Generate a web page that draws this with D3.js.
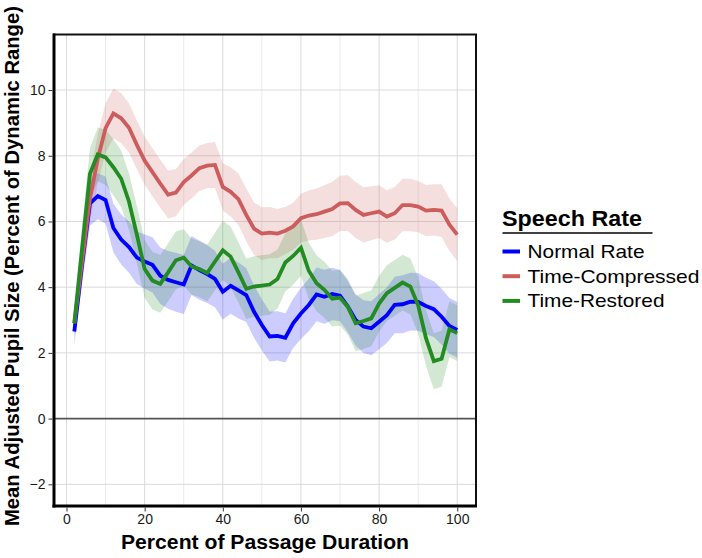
<!DOCTYPE html>
<html>
<head>
<meta charset="utf-8">
<script src="https://cdn.jsdelivr.net/npm/d3@7/dist/d3.min.js"></script>
<style>
  html, body { margin: 0; padding: 0; background: #fff; }
  svg { display: block; font-family: "Liberation Sans", Arial, Helvetica, sans-serif; }
</style>
</head>
<body>
<div id="chart"></div>
<script>
// ---------------- data ----------------
const percent = [2,4,6,8,10,12,14,16,18,20,22,24,26,28,30,32,34,36,38,40,42,44,46,48,50,
                 52,54,56,58,60,62,64,66,68,70,72,74,76,78,80,82,84,86,88,90,92,94,96,98,100];

const normalMean = [2.65,4.7,6.55,6.77,6.65,5.8,5.45,5.22,4.9,4.78,4.68,4.35,4.22,4.15,4.08,4.66,4.52,4.4,4.25,3.86,
                    4.04,3.9,3.76,3.25,2.85,2.5,2.52,2.46,2.9,3.2,3.46,3.78,3.71,3.79,3.74,3.41,3.0,2.8,2.75,2.95,
                    3.15,3.46,3.48,3.56,3.55,3.43,3.33,3.1,2.82,2.7];
const normalHalf = [0.4,0.6,0.68,0.7,0.72,0.74,0.76,0.78,0.8,0.82,0.84,0.86,0.88,0.9,0.9,0.9,0.9,0.88,0.86,0.85,
                    0.85,0.85,0.82,0.8,0.78,0.76,0.75,0.75,0.75,0.78,0.8,0.82,0.82,0.8,0.78,0.78,0.78,0.8,0.82,0.84,
                    0.85,0.86,0.88,0.88,0.88,0.86,0.85,0.85,0.85,0.85];

const compressedMean = [2.9,4.8,6.7,7.9,8.84,9.29,9.14,8.85,8.33,7.85,7.5,7.15,6.82,6.88,7.2,7.4,7.62,7.7,7.72,7.05,
                        6.9,6.68,6.2,5.78,5.63,5.66,5.63,5.72,5.85,6.1,6.18,6.22,6.3,6.38,6.55,6.56,6.35,6.2,6.25,6.3,
                        6.15,6.25,6.5,6.5,6.45,6.33,6.35,6.33,5.9,5.6];
const compressedHalf = [0.35,0.6,0.7,0.75,0.76,0.76,0.76,0.75,0.74,0.73,0.73,0.73,0.73,0.72,0.7,0.7,0.69,0.69,0.7,0.72,
                        0.75,0.78,0.8,0.8,0.8,0.78,0.75,0.72,0.72,0.74,0.76,0.78,0.8,0.82,0.84,0.85,0.85,0.84,0.82,0.8,
                        0.8,0.8,0.8,0.8,0.78,0.78,0.78,0.8,0.8,0.8];

const restoredMean = [2.9,5.2,7.45,8.04,7.95,7.65,7.3,6.6,5.6,4.55,4.2,4.1,4.45,4.82,4.9,4.63,4.55,4.43,4.78,5.12,
                      4.93,4.45,3.95,4.02,4.05,4.08,4.25,4.75,4.95,5.2,4.5,4.12,3.92,3.65,3.68,3.4,2.9,2.97,3.05,3.5,
                      3.82,3.98,4.14,4.02,3.45,2.45,1.75,1.82,2.72,2.6];
const restoredHalf = [0.35,0.65,0.78,0.82,0.84,0.85,0.86,0.86,0.87,0.88,0.88,0.88,0.88,0.88,0.86,0.85,0.85,0.86,0.88,0.9,
                      0.92,0.92,0.92,0.92,0.92,0.92,0.9,0.88,0.88,0.86,0.85,0.85,0.85,0.85,0.85,0.85,0.85,0.85,0.85,0.85,
                      0.85,0.85,0.85,0.85,0.85,0.85,0.85,0.85,0.85,0.85];

const seriesNames = ["Normal Rate", "Time-Compressed", "Time-Restored"];
const seriesColors = ["#0000FF", "#CD5C5C", "#228B22"];
const xTicks = [0, 20, 40, 60, 80, 100];
const xMinor = [10, 30, 50, 70, 90];
const yTicks = [-2, 0, 2, 4, 6, 8, 10];

const legendTitle = "Speech Rate";
const xTitle = "Percent of Passage Duration";
const yTitle = "Mean Adjusted Pupil Size (Percent of Dynamic Range)";

// ---------------- layout ----------------
const W = 702, H = 558;
const panel = { left: 54, right: 476, top: 34.5, bottom: 506 };

const svg = d3.select("#chart").append("svg").attr("width", W).attr("height", H);

const x = d3.scaleLinear().domain([-3.2, 104.8]).range([panel.left, panel.right]);
const y = d3.scaleLinear().domain([-2.66, 11.69]).range([panel.bottom, panel.top]);

// grid
const grid = svg.append("g");
grid.selectAll("line.xminor").data(xMinor).join("line")
  .attr("x1", d => x(d)).attr("x2", d => x(d))
  .attr("y1", panel.top).attr("y2", panel.bottom)
  .attr("stroke", "#ebebeb").attr("stroke-width", 1);
grid.selectAll("line.xmajor").data(xTicks).join("line")
  .attr("x1", d => x(d)).attr("x2", d => x(d))
  .attr("y1", panel.top).attr("y2", panel.bottom)
  .attr("stroke", "#dadada").attr("stroke-width", 1);
grid.selectAll("line.ymajor").data(yTicks).join("line")
  .attr("x1", panel.left).attr("x2", panel.right)
  .attr("y1", d => y(d)).attr("y2", d => y(d))
  .attr("stroke", "#dadada").attr("stroke-width", 1);

// zero line
svg.append("line")
  .attr("x1", panel.left).attr("x2", panel.right)
  .attr("y1", y(0)).attr("y2", y(0))
  .attr("stroke", "#555").attr("stroke-width", 1.6);

const series = [
  { name: seriesNames[0], color: seriesColors[0], mean: normalMean, half: normalHalf },
  { name: seriesNames[1], color: seriesColors[1], mean: compressedMean, half: compressedHalf },
  { name: seriesNames[2], color: seriesColors[2], mean: restoredMean, half: restoredHalf }
];

const area = d3.area()
  .x((d, i) => x(percent[i]))
  .y0(d => y(d.lo)).y1(d => y(d.hi));
const line = d3.line()
  .x((d, i) => x(percent[i]))
  .y(d => y(d));

const plot = svg.append("g");
series.forEach(s => {
  const band = s.mean.map((m, i) => ({ lo: m - s.half[i], hi: m + s.half[i] }));
  plot.append("path").datum(band).attr("d", area)
    .attr("fill", s.color).attr("fill-opacity", 0.2).attr("stroke", "none");
});
series.forEach(s => {
  plot.append("path").datum(s.mean).attr("d", line)
    .attr("fill", "none").attr("stroke", s.color)
    .attr("stroke-width", 3.8).attr("stroke-linejoin", "miter").attr("stroke-miterlimit", 3);
});

// panel border
svg.append("rect")
  .attr("x", panel.left).attr("y", panel.top)
  .attr("width", panel.right - panel.left).attr("height", panel.bottom - panel.top)
  .attr("fill", "none").attr("stroke", "#111").attr("stroke-width", 2);
svg.append("line").attr("x1", panel.left).attr("x2", panel.left)
  .attr("y1", panel.top - 1).attr("y2", panel.bottom + 1.5)
  .attr("stroke", "#000").attr("stroke-width", 3);
svg.append("line").attr("x1", panel.left - 1.5).attr("x2", panel.right + 1)
  .attr("y1", panel.bottom).attr("y2", panel.bottom)
  .attr("stroke", "#000").attr("stroke-width", 3);

// axes via d3
const xAxis = d3.axisBottom(x).tickValues(xTicks).tickSize(4).tickPadding(3);
const yAxis = d3.axisLeft(y).tickValues(yTicks).tickSize(4).tickPadding(3);

const gx = svg.append("g").attr("transform", `translate(0,${panel.bottom + 1.5})`).call(xAxis);
const gy = svg.append("g").attr("transform", `translate(${panel.left - 1.5},0)`).call(yAxis);
[gx, gy].forEach(g => {
  g.select(".domain").remove();
  g.selectAll(".tick line").attr("stroke", "#333").attr("stroke-width", 1);
  g.selectAll(".tick text").attr("fill", "#1a1a1a")
    .style("font-size", "14px").style("font-family", "'Liberation Sans', Arial, sans-serif");
});

// axis titles
svg.append("text")
  .attr("x", (panel.left + panel.right) / 2).attr("y", 549)
  .attr("text-anchor", "middle")
  .attr("textLength", 288).attr("lengthAdjust", "spacingAndGlyphs")
  .style("font-size", "20px").style("font-weight", "bold").attr("fill", "#000")
  .text(xTitle);

svg.append("text")
  .attr("transform", `translate(18.5,${266}) rotate(-90)`)
  .attr("text-anchor", "middle")
  .attr("textLength", 520).attr("lengthAdjust", "spacingAndGlyphs")
  .style("font-size", "20px").style("font-weight", "bold").attr("fill", "#000")
  .text(yTitle);

// legend
const lg = svg.append("g");
lg.append("text").attr("x", 502).attr("y", 225.5)
  .attr("textLength", 140).attr("lengthAdjust", "spacingAndGlyphs")
  .style("font-size", "22px").style("font-weight", "bold").attr("fill", "#000")
  .text(legendTitle);
lg.append("line").attr("x1", 502.5).attr("x2", 652.5).attr("y1", 233).attr("y2", 233)
  .attr("stroke", "#000").attr("stroke-width", 1.6);

const itemLengths = [117, 172, 137];
series.forEach((s, i) => {
  const cy = 251.5 + i * 24.7;
  lg.append("line").attr("x1", 502.5).attr("x2", 520).attr("y1", cy).attr("y2", cy)
    .attr("stroke", s.color).attr("stroke-width", 4);
  lg.append("text").attr("x", 527.5).attr("y", cy + 6.5)
    .attr("textLength", itemLengths[i]).attr("lengthAdjust", "spacingAndGlyphs")
    .style("font-size", "19px").attr("fill", "#000")
    .text(s.name);
});
</script>
</body>
</html>
